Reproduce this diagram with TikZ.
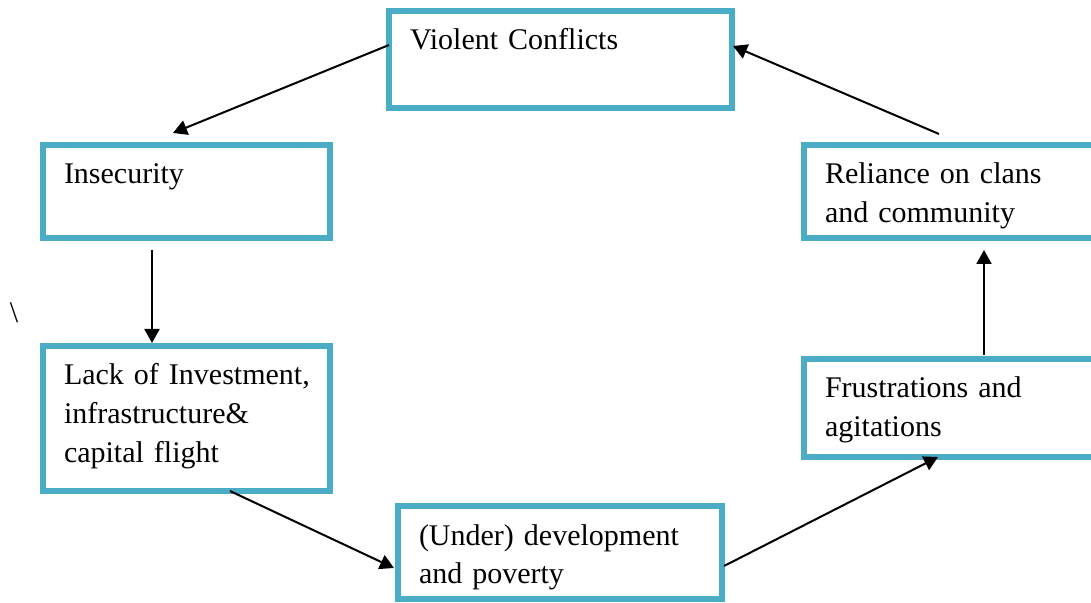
\documentclass[tikz,border=0pt]{standalone}
\usepackage{fontspec}
\setmainfont{Liberation Serif}
\usetikzlibrary{arrows.meta}
\definecolor{boxblue}{RGB}{75,172,198}
\tikzset{
  cyclebox/.style={draw=boxblue, line width=3pt, anchor=north west, outer sep=0pt,
    inner xsep=10.5pt, inner ysep=0pt, align=left, text height=19.5pt,
    font=\fontsize{15}{19.5}\selectfont},
  cyclearrow/.style={line width=1pt, -{Triangle[length=7pt,width=7.5pt]}}
}
\begin{document}
\begin{tikzpicture}[x=0.5pt, y=-0.5pt]
        \useasboundingbox (0,0) rectangle (1091,603);
        % Boxes of the cycle
        \node[cyclebox, text width=150.5pt, text depth=29pt] (viol) at (389, 11) {Violent Conflicts};
        \node[cyclebox, text width=122.5pt, text depth=27pt] (insec) at (43, 145) {Insecurity};
        \node[cyclebox, text width=122.5pt, text depth=53pt] (lack) at (43, 346)
                {\mbox{Lack of Investment,}\\ infrastructure\&\\ capital flight};
        \node[cyclebox, text width=141pt, text depth=27pt] (under) at (398, 506)
                {(Under) development\\ and poverty};
        \node[cyclebox, text width=129pt, text depth=29.5pt] (frus) at (804, 359)
                {Frustrations and\\ agitations};
        \node[cyclebox, text width=129pt, text depth=27pt] (reli) at (804, 145)
                {Reliance on clans\\ and community};
        \node[font=\fontsize{15}{19.5}\selectfont] (bslash) at (14, 313) {\textbackslash};

        % Arrows
        \draw[cyclearrow] ([yshift=-17pt]viol.north west) -- ([xshift=65pt,yshift=6pt]insec.north west);
        \draw[cyclearrow] ([xshift=54.5pt,yshift=-6pt]insec.south west) -- ([xshift=54.5pt,yshift=1.5pt]lack.north west);
        \draw[cyclearrow] ([xshift=93.5pt]lack.south west) -- ([xshift=-2pt,yshift=-31pt]under.north west);
        \draw[cyclearrow] ([xshift=1pt,yshift=-30pt]under.north east) -- ([xshift=67pt]frus.south west);
        \draw[cyclearrow] ([xshift=90pt,yshift=2pt]frus.north west) -- ([xshift=90pt,yshift=-6pt]reli.south west);
        \draw[cyclearrow] ([xshift=67.5pt,yshift=5.5pt]reli.north west) -- ([xshift=0.5pt,yshift=-17.5pt]viol.north east);
\end{tikzpicture}
\end{document}
